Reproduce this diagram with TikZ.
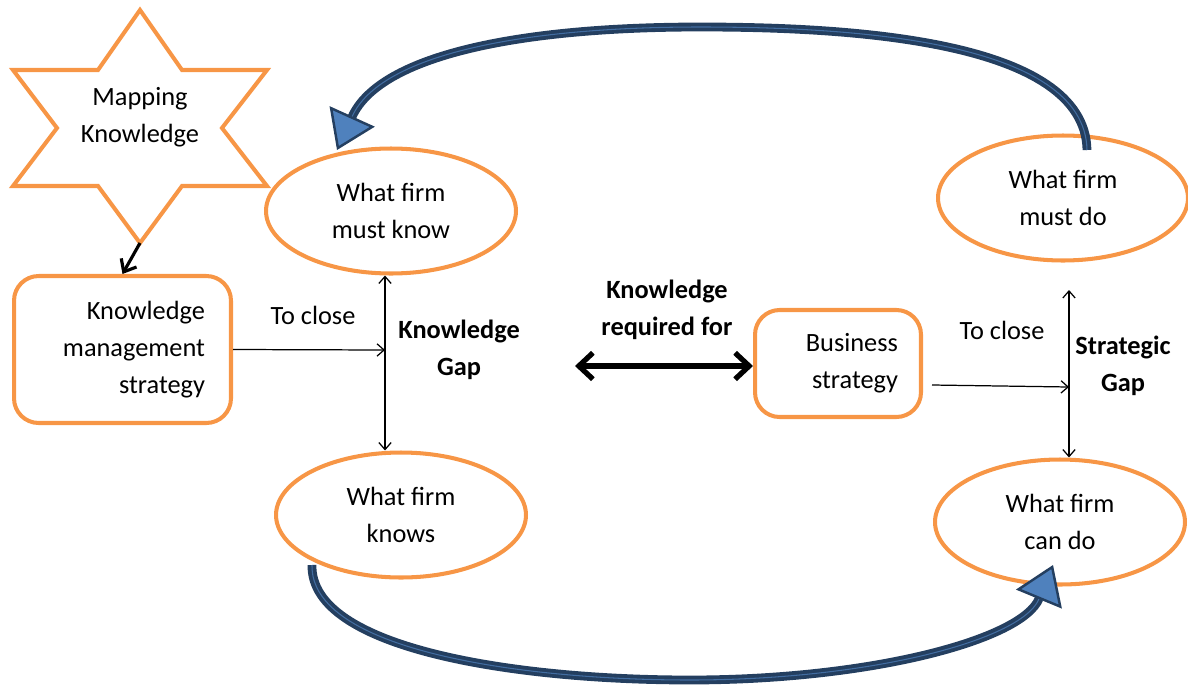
\documentclass[tikz,border=0pt]{standalone}
\usepackage{fontspec}
\setmainfont{Carlito}
\usetikzlibrary{arrows.meta,positioning,shapes.geometric}

\definecolor{kmorange}{HTML}{F79646}
\definecolor{cyclenavy}{HTML}{243F60}
\definecolor{cycleblue}{HTML}{4F81BD}
\newcommand{\kmfont}{\fontsize{15}{21}\selectfont}

\begin{document}
\begin{tikzpicture}[x=0.02cm, y=-0.02cm, font=\kmfont,
    state/.style={ellipse, draw=kmorange, line width=2.3pt, minimum width=5cm,
      minimum height=2.5cm, inner sep=0pt, align=center},
    plan/.style={rectangle, rounded corners=14pt, draw=kmorange, line width=2.3pt, align=right},
    boldlabel/.style={font=\kmfont\bfseries, align=center, inner sep=0pt},
    closeline/.style={line width=0.7pt, -{Straight Barb[length=4pt,width=7pt]}},
    gapline/.style={line width=0.7pt,
      {Straight Barb[length=4pt,width=7pt]}-{Straight Barb[length=4pt,width=7pt]}},
    loopback/.style={cyclenavy, line width=5pt,
      -{Triangle[length=21pt,width=28pt,fill=cycleblue,line width=1.4pt]}},
    loopshine/.style={cycleblue!70!cyclenavy, line width=0.6pt, shorten >=21pt}]
  \useasboundingbox (0,0) rectangle (1188,687);

  %The six-pointed star, drawn point by point.
  \draw[kmorange, line width=2.3pt] (140,10) -- (182,70) -- (267,70) -- (222,128)
    -- (267,186) -- (182,186) -- (140,243) coordinate (starbot) -- (98,186)
    -- (13,186) -- (57,128) -- (13,70) -- (98,70) -- cycle;
  \node[align=center] (map) at (140,117) {Mapping\\Knowledge};

  %The four states of the firm.
  \node[state] (mustknow) at (391,211) {What firm\\must know};
  \node[state] (knows) at (401,515) {What firm\\knows};
  \node[state] (mustdo) at (1063,198) {What firm\\must do};
  \node[state] (cando) at (1060,522) {What firm\\can do};

  %The two strategies.
  \node[plan, minimum height=2.94cm, text width=3.3cm, inner xsep=0.52cm]
    (kms) at (122.5,349.5) {Knowledge\\management\\strategy};
  \node[plan, minimum height=2.14cm, text width=2.4cm, inner xsep=0.46cm]
    (bs) at (838,363.5) {Business\\strategy};

  \draw[line width=1.8pt, -{Straight Barb[length=6pt,width=10pt]}] (starbot) -- (kms.north);

  %Knowledge gap on the left.
  \coordinate (kgap) at (385,350);
  \draw[closeline] (kms.east) -- (kgap);
  \draw[gapline] (kgap |- mustknow.south) -- (kgap |- knows.north);
  \node (kclose) at (313,315) {To close};
  \node[boldlabel] (kgaplabel) [right=0.26cm of kgap] {Knowledge\\Gap};

  %Link between the two strategies.
  \node[boldlabel] (kreq) at (667,310) {Knowledge\\required for};
  \coordinate (kreqleft) at (575,366);
  \draw[line width=3pt, {Straight Barb[length=8pt,width=15pt]}-{Straight Barb[length=8pt,width=15pt]}]
    (kreqleft) -- (kreqleft -| bs.west);

  %Strategic gap on the right.
  \coordinate (sgap) at (1069,387);
  \coordinate (sgtop) at (1069,290);
  \coordinate (bsout) at (932,385);
  \draw[closeline] (bsout) -- (sgap);
  \draw[gapline] (sgtop) -- (sgtop |- cando.north);
  \node (sclose) at (1002,330) {To close};
  \node[boldlabel] (sgaplabel) at (1123,366) {Strategic\\Gap};

  %The two big curved arrows.
  \coordinate (toptail) at (1087,150);
  \coordinate (toptip) at (337,150);
  \coordinate (bottail) at (312,565);
  \coordinate (bottip) at (1053,565);
  \draw[loopback] (toptail) .. controls (1085,40) and (850,27) .. (700,27)
    .. controls (520,27) and (380,55) .. (toptip);
  \draw[loopshine] (toptail) .. controls (1085,40) and (850,27) .. (700,27)
    .. controls (520,27) and (380,55) .. (toptip);
  \draw[loopback] (bottail) .. controls (310,650) and (520,680) .. (690,680)
    .. controls (870,680) and (1022,640) .. (bottip);
  \draw[loopshine] (bottail) .. controls (310,650) and (520,680) .. (690,680)
    .. controls (870,680) and (1022,640) .. (bottip);
\end{tikzpicture}
\end{document}
